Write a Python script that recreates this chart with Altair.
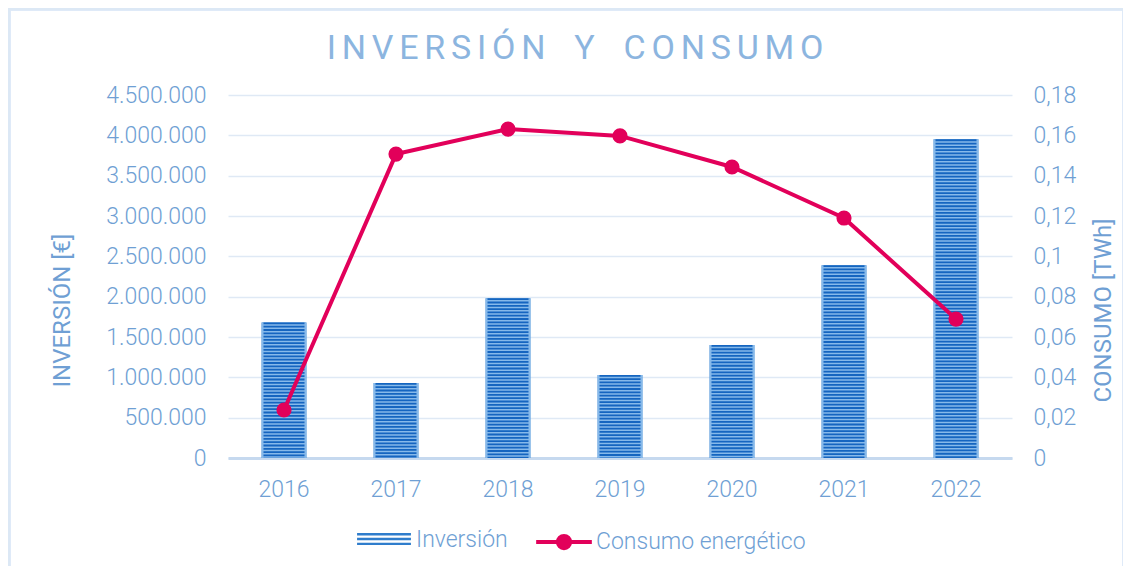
import altair as alt
import pandas as pd

years = ["2016", "2017", "2018", "2019", "2020", "2021", "2022"]
inversion = [1680000, 930000, 1980000, 1030000, 1400000, 2390000, 3950000]
consumo = [0.0238, 0.1507, 0.1631, 0.1597, 0.1443, 0.119, 0.0689]

df = pd.DataFrame({"year": years, "inv": inversion, "con": consumo,
                   "s1": "Inversión", "s2": "Consumo energético"})

FONT = "Roboto"
TXT = "#6f9fd4"
BLUE_D = "#1565c0"
BLUE_L = "#86b9ea"
RED = "#e2005a"

x = alt.X("year:N", title=None,
          scale=alt.Scale(paddingInner=0.6, paddingOuter=0.3),
          axis=alt.Axis(labelAngle=0, labelFontSize=23, labelColor=TXT, labelFont=FONT,
                        labelFontWeight=300, labelPadding=20, ticks=False,
                        domainColor="#c6d9ef", domainWidth=3))

yL = alt.Y("inv:Q", title="INVERSIÓN [€]",
           scale=alt.Scale(domain=[0, 4500000]),
           axis=alt.Axis(values=[i * 500000 for i in range(10)], format=",d",
                         labelFontSize=23, labelColor=TXT, labelFont=FONT, labelFontWeight=300,
                         labelPadding=22, ticks=False, domain=False,
                         gridColor="#dfe9f5", gridWidth=1.5,
                         titleFontSize=24, titleFont=FONT, titleFontWeight=400, titleColor=TXT,
                         titleX=-166, titleY=215, titleAngle=-90, titleBaseline="middle",
                         titleAlign="center"))

legend_bar = alt.Legend(title=None, orient="none", legendX=128, legendY=417,
                        symbolType="M-1,-0.26H1V-0.17H-1Z M-1,-0.08H1V0.01H-1Z M-1,0.1H1V0.19H-1Z",
                        symbolSize=2900, labelFontSize=23, labelColor=TXT, labelFont=FONT,
                        labelFontWeight=300, labelOffset=4, labelLimit=300)

bg = alt.Chart(df).mark_bar(color=BLUE_L).encode(
    x=x, y=yL,
    fill=alt.Fill("s1:N", scale=alt.Scale(range=["#2f7dcc"]), legend=legend_bar))

bg2 = alt.Chart(df).mark_bar(color=BLUE_L, fill=BLUE_L).encode(x=x, y=alt.Y("inv:Q"))

stripes = alt.Chart(df).mark_rule(color=BLUE_D, strokeWidth=41, strokeDash=[1.8, 1.5],
                                  strokeCap="butt").encode(
    x=x, y="inv:Q", y2=alt.datum(0))

bars = alt.layer(bg, bg2, stripes)

yR = alt.Y("con:Q", title="CONSUMO [TWh]",
           scale=alt.Scale(domain=[0, 0.18]),
           axis=alt.Axis(orient="right", values=[i * 0.02 for i in range(10)], format="~g",
                         labelFontSize=23, labelColor=TXT, labelFont=FONT, labelFontWeight=300,
                         labelPadding=21, ticks=False, domain=False, grid=False,
                         titleFontSize=24, titleFont=FONT, titleFontWeight=400, titleColor=TXT,
                         titleX=91, titleY=215, titleAngle=-90, titleBaseline="middle",
                         titleAlign="center"))

legend_line = alt.Legend(title=None, orient="none", legendX=306, legendY=417,
                         symbolType="M-1,0H1 M0.22,0A0.22,0.22 0 1,1 -0.22,0A0.22,0.22 0 1,1 0.22,0",
                         symbolSize=3100, symbolStrokeWidth=4, symbolFillColor=RED,
                         labelFontSize=23, labelColor=TXT, labelFont=FONT,
                         labelFontWeight=300, labelOffset=2, labelLimit=300)

line = alt.Chart(df).mark_line(strokeWidth=4).encode(
    x=x, y=yR,
    stroke=alt.Stroke("s2:N", scale=alt.Scale(range=[RED]), legend=legend_line))

pts = alt.Chart(df).mark_point(filled=True, size=230, color=RED, opacity=1).encode(
    x=x, y=yR)

lines = alt.layer(line, pts)

frame = alt.Chart(df).mark_rect(fill=None, stroke="#dce8f5", strokeWidth=2.5).encode(
    x=alt.value(-219), x2=alt.value(896), y=alt.value(-86), y2=alt.value(490))

sp = "\u2006"
gap = sp + "\u2002" + sp
title_text = sp.join("INVERSIÓN") + gap + "Y" + gap + sp.join("CONSUMO")

chart = alt.layer(frame, bars, lines).resolve_scale(y="independent", fill="independent",
                                                   stroke="independent").properties(
    width=784, height=363,
    autosize=alt.AutoSizeParams(type="none"),
    padding={"left": 220, "top": 87, "right": 111, "bottom": 108},
    title=alt.TitleParams(title_text, fontSize=34, font=FONT,
                          fontWeight=400, color="#8cb5df", anchor="middle", dx=-45,
                          offset=-58),
).configure(
    locale={"number": {"decimal": ",", "thousands": ".", "grouping": [3],
                       "currency": ["", " €"]}}
).configure_view(stroke=None)

chart.save("out.html", embed_options={"renderer": "svg", "actions": False})
